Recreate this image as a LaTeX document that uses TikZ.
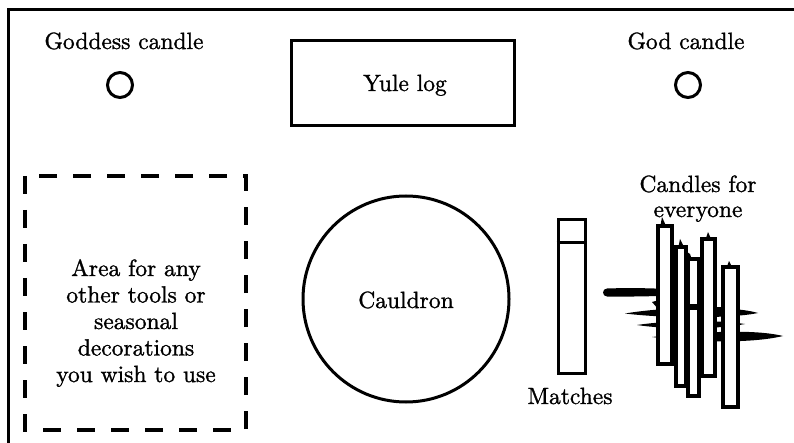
\documentclass[tikz,border=0pt]{standalone}
\usepackage{fontspec}
\newfontfamily\lblfont{lmroman10-regular}[Extension=.otf, FakeBold=1.2]
\begin{document}
\begin{tikzpicture}[x=1pt,y=-1pt,
  lbl/.style={font=\lblfont\fontsize{23.5}{26.5}\selectfont, inner sep=0pt, align=center},
  outline/.style={line width=3pt},
  dashbox/.style={line width=3.5pt, dash pattern=on 18pt off 16pt},
  candlebody/.style={draw, line width=3.4pt, fill=white},
  drip/.style={fill=black}]
\useasboundingbox (0,0) rectangle (794,443);

% altar frame
\draw[outline] (8,450) -- (8,10) -- (800,10);

% goddess and god candles
\node[lbl, anchor=base] (goddesslbl) at (124,49) {Goddess candle};
\node[draw, circle, outline, minimum size=25pt, inner sep=0pt] (goddess) at (120,85) {};
\node[lbl, anchor=base] (godlbl) at (686,49) {God candle};
\node[draw, circle, outline, minimum size=25pt, inner sep=0pt] (god) at (688,85) {};

% yule log
\node[draw, outline, minimum width=223pt, minimum height=85pt] (yule) at (403,83) {};
\node[lbl, anchor=base] (yulelbl) at (405,91) {Yule log};

% area for other tools
\draw[dashbox] (25,176) rectangle (246,430);
\node[lbl] (arealbl) at (136,323) {Area for any\\other tools or\\seasonal\\decorations\\you wish to use};

% cauldron
\node[draw, circle, outline, minimum size=206pt, inner sep=0pt] (cauldron) at (406,299) {};
\node[lbl, anchor=base] (cauldronlbl) at (406,308) {Cauldron};

% matches
\node[draw, outline, minimum width=27pt, minimum height=153pt, inner sep=0pt] (matches) at (571.5,296.5) {};
\draw[outline] (matches.west |- 0,243) -- (matches.east |- 0,243);
\node[lbl, anchor=base] (matcheslbl) at (570,404) {Matches};

% candles for everyone
\node[lbl, anchor=base] (candleslbl) at (698,192) {Candles for};
\node[lbl, anchor=base] (everyonelbl) at (698,217) {everyone};

\begin{scope}[yshift=-4pt]
% wax drips behind the candles
\fill[drip] (607,284.5) .. controls (650,283) and (690,286) .. (716,289)
  .. controls (690,291) and (650,293) .. (607,292.5) arc[start angle=270, end angle=90, radius=4pt] -- cycle;
\fill[drip] (652,298) -- (659,296) -- (659,306) -- cycle;
\fill[drip] (625,309.5) .. controls (670,302) and (735,302) .. (758,309)
  .. controls (735,314) and (670,315) .. (625,309.5) -- cycle;
\fill[drip] (637,321) .. controls (670,316) and (720,316) .. (745,320)
  .. controls (720,325) and (670,326) .. (637,321) -- cycle;
\fill[drip] (652,333) .. controls (690,329) and (750,324) .. (783,332)
  .. controls (750,340) and (690,338) .. (652,333) -- cycle;

% candle bodies
\foreach \l/\r/\t/\b [count=\i] in {658/672/222/360, 676/686/243/382, 688/699/255/392, 702/715/235/372, 723/738/263/403}
  \draw[candlebody] (\l,\t) rectangle (\r,\b);

% wax showing through where the drips cross
\fill[drip] (686,300) rectangle (702,306);
\fill[drip] (672,316) rectangle (676,326);
\fill[drip] (699,318) rectangle (702,336);
\fill[drip] (715,303) rectangle (723,312);

% flames
\fill (660,224) -- (662,213) -- (667,224) -- cycle;
\fill (678,245) -- (680,235) -- (685,245) -- cycle;
\fill (684,246) -- (690,250) -- (692,256) -- (686,254) -- cycle;
\fill (705,237) -- (708,228) -- (712,237) -- cycle;
\fill (726,265) -- (729,257) -- (733,265) -- cycle;
\end{scope}
\end{tikzpicture}
\end{document}
